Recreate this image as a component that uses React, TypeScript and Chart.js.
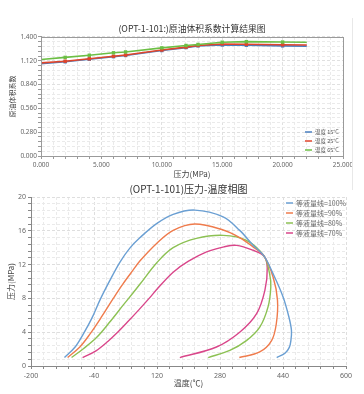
import React, { useEffect, useRef } from "react";
import { Chart, registerables } from "chart.js";

Chart.register(...registerables);

// ---------- Top chart data: oil formation volume factor ----------
const pressures = [0, 2, 4, 6, 7, 10, 12, 13, 15, 17, 20, 22];
const bo15 = [1.085, 1.108, 1.138, 1.168, 1.182, 1.24, 1.275, 1.295, 1.305, 1.302, 1.295, 1.292];
const bo25 = [1.095, 1.115, 1.143, 1.173, 1.187, 1.246, 1.28, 1.3, 1.318, 1.314, 1.308, 1.305];
const bo65 = [1.135, 1.16, 1.185, 1.214, 1.224, 1.272, 1.3, 1.312, 1.338, 1.345, 1.34, 1.338];
const boMarkers = [0, 1, 1, 1, 1, 1, 1, 1, 1, 1, 1, 0];
const boLabels = ["温度 15°C", "温度 25°C", "温度 65°C"];
const topXTicks = [0, 5, 10, 15, 20, 25];
const topXTickLabels = ["0.000", "5.000", "10.000", "15.000", "20.000", "25.000"];
const topYTicks = [0, 0.28, 0.56, 0.84, 1.12, 1.4];
const topYTickLabels = ["0.000", "0.280", "0.560", "0.840", "1.120", "1.400"];

// ---------- Bottom chart data: P-T phase diagram ----------
const ptLabels = ["等液量线=100%", "等液量线=90%", "等液量线=80%", "等液量线=70%"];
const t100 = [-115, -88, -67, -46, -25, 0, 26, 51, 77, 119, 161, 216, 288, 330, 364, 392, 415, 440, 455, 461.5, 460, 456, 445, 424];
const p100 = [1.0, 2.25, 3.8, 5.6, 7.8, 10.1, 12.3, 13.95, 15.2, 16.85, 17.95, 18.45, 17.65, 16.05, 14.3, 13.0, 10.9, 8.2, 5.8, 4.2, 3.0, 2.2, 1.5, 1.0];
const t90 = [-107, -76, -50, -21, 9, 34, 60, 77, 119, 161, 216, 288, 330, 364, 392, 415, 426, 423, 411, 381, 329];
const p90 = [1.0, 2.25, 3.8, 5.8, 8.0, 9.75, 11.4, 12.45, 14.5, 16.05, 16.8, 16.1, 15.2, 14.1, 13.0, 10.5, 7.8, 5.0, 3.0, 1.66, 1.0];
const t80 = [-97, -67, -33, 0, 34, 60, 77, 119, 161, 220, 288, 347, 392, 406, 409, 402, 381, 347, 305, 250];
const p80 = [1.0, 2.05, 3.4, 5.2, 7.2, 8.7, 9.7, 12.2, 14.0, 15.1, 15.46, 14.87, 13.0, 10.9, 9.35, 7.0, 4.6, 3.0, 1.85, 1.0];
const t70 = [-69, -35, -5, 18, 45, 75, 100, 122, 161, 200, 246, 290, 322, 364, 392, 400, 394, 373, 330, 271, 178];
const p70 = [1.0, 1.8, 2.9, 3.9, 5.2, 6.7, 8.0, 9.2, 11.1, 12.4, 13.5, 14.1, 14.28, 13.7, 13.0, 11.6, 8.95, 6.2, 4.0, 2.25, 1.0];
const ptXTicks = [-200, -40, 120, 280, 440, 600];
const ptYTicks = [0, 4, 8, 12, 16, 20];

const FONT = "'Noto Sans', 'Noto Sans CJK SC', sans-serif";
const CJK = "'Noto Sans CJK SC', 'Noto Sans', sans-serif";

function withMinors(majors: number[], parts: number) {
  const out: number[] = [];
  for (let i = 0; i < majors.length - 1; i++) {
    const a = majors[i];
    const b = majors[i + 1];
    for (let k = 0; k < parts; k++) out.push(a + ((b - a) * k) / parts);
  }
  out.push(majors[majors.length - 1]);
  return out;
}

function majorIndex(majors: number[], v: number) {
  return majors.findIndex((m) => Math.abs(m - v) < 1e-6);
}

const insideLegend = {
  id: "insideLegend",
  afterDraw(chart: any, _args: any, opts: any) {
    const { ctx } = chart;
    ctx.save();
    ctx.font = opts.font;
    ctx.textBaseline = "middle";
    chart.data.datasets.forEach((ds: any, i: number) => {
      const y = opts.y + i * opts.gap;
      ctx.strokeStyle = ds.borderColor;
      ctx.lineWidth = opts.lineWidth;
      ctx.beginPath();
      ctx.moveTo(opts.x, y);
      ctx.lineTo(opts.x + opts.swatch, y);
      ctx.stroke();
      ctx.fillStyle = opts.color;
      ctx.fillText(ds.label, opts.x + opts.swatch + opts.textGap, y);
    });
    ctx.restore();
  },
};

const boxPlugin = {
  id: "boxPlugin",
  afterDatasetsDraw(chart: any, _args: any, opts: any) {
    if (!opts || !opts.color) return;
    const { ctx, chartArea: a } = chart;
    ctx.save();
    ctx.strokeStyle = opts.color;
    ctx.lineWidth = 1;
    ctx.strokeRect(Math.round(a.left) + 0.5, Math.round(a.top) + 0.5, Math.round(a.right - a.left), Math.round(a.bottom - a.top));
    ctx.restore();
  },
};

function gridColor(majors: number[], major: string, minor: string) {
  return (c: any) => (c.tick && majorIndex(majors, c.tick.value) >= 0 ? major : minor);
}

export default function App() {
  const topRef = useRef<HTMLCanvasElement>(null);
  const botRef = useRef<HTMLCanvasElement>(null);

  useEffect(() => {
    const mk = (xs: number[], ys: number[]) => xs.map((x, i) => ({ x, y: ys[i] }));
    const topColors = ["#4a7fc1", "#e0452b", "#6cbf45"];
    const topSeries = [bo15, bo25, bo65];
    const topOrder = [3, 2, 1];
    const top = new Chart(topRef.current!, {
      type: "scatter",
      data: {
        datasets: topSeries.map((s, i) => ({
          label: boLabels[i],
          data: mk(pressures, s),
          showLine: true,
          borderColor: topColors[i],
          backgroundColor: topColors[i],
          borderWidth: 1.6,
          pointStyle: "rect",
          pointRadius: boMarkers.map((m) => m * 2.4),
          pointBorderWidth: 0,
          tension: 0,
          order: topOrder[i],
        })),
      },
      options: {
        animation: false,
        responsive: false,
        layout: { padding: { left: 0, right: 21, top: 0, bottom: 0 } },
        plugins: {
          legend: { display: false },
          tooltip: { enabled: false },
          title: {
            display: true,
            fullSize: false,
            text: "(OPT-1-101:)原油体积系数计算结果图",
            color: "#333",
            font: { family: CJK, size: 8.8, weight: "normal" },
            padding: { top: 23.7, bottom: 2.7 },
          },
          insideLegend: { x: 305, y: 132, gap: 9, swatch: 7, textGap: 3, lineWidth: 1.5, font: `5.5px ${CJK}`, color: "#555" },
          boxPlugin: { color: "#9a9a9a" },
        } as any,
        scales: {
          x: {
            type: "linear",
            min: 0,
            max: 25,
            afterBuildTicks: (s: any) => {
              s.ticks = withMinors(topXTicks, 5).map((v) => ({ value: v }));
            },
            afterFit: (s: any) => {
              s.height = 24;
            },
            ticks: {
              autoSkip: false,
              maxRotation: 0,
              minRotation: 0,
              padding: 2.5,
              color: "#666",
              font: { family: FONT, size: 6.5 },
              callback: (v: any) => {
                const i = majorIndex(topXTicks, Number(v));
                return i >= 0 ? topXTickLabels[i] : "";
              },
            },
            grid: { color: gridColor(topXTicks, "#e0e0e0", "#eaeaea"), tickColor: "#999", tickLength: 3 },
            border: { color: "#9a9a9a", dash: [3, 2] },
            title: { display: true, text: "压力(MPa)", color: "#444", font: { family: CJK, size: 8 }, padding: { top: 0, bottom: 1.2 } },
          },
          y: {
            type: "linear",
            min: 0,
            max: 1.4,
            afterBuildTicks: (s: any) => {
              s.ticks = withMinors(topYTicks, 5).map((v) => ({ value: v }));
            },
            afterFit: (s: any) => {
              s.width = 41;
            },
            ticks: {
              autoSkip: false,
              padding: 1,
              color: "#666",
              font: { family: FONT, size: 6.5 },
              callback: (v: any) => {
                const i = majorIndex(topYTicks, Number(v));
                return i >= 0 ? topYTickLabels[i] : "";
              },
            },
            grid: { color: gridColor(topYTicks, "#e0e0e0", "#eaeaea"), tickColor: "#999", tickLength: 3 },
            border: { color: "#9a9a9a", dash: [3, 2] },
            title: { display: true, text: "原油体积系数", color: "#444", font: { family: CJK, size: 7 }, padding: { top: 7.8, bottom: 0 } },
          },
        },
      },
      plugins: [insideLegend, boxPlugin],
    } as any);

    const ptColors = ["#6a9fd3", "#ef7b4c", "#8cc153", "#d9468a"];
    const ptT = [t100, t90, t80, t70];
    const ptP = [p100, p90, p80, p70];
    const bot = new Chart(botRef.current!, {
      type: "scatter",
      data: {
        datasets: ptT.map((ts, i) => ({
          label: ptLabels[i],
          data: mk(ts, ptP[i]),
          showLine: true,
          borderColor: ptColors[i],
          backgroundColor: ptColors[i],
          borderWidth: 1.4,
          pointRadius: 0,
          tension: 0.35,
        })),
      },
      options: {
        animation: false,
        responsive: false,
        layout: { padding: { left: 0, right: 18, top: 0, bottom: 0 } },
        plugins: {
          legend: { display: false },
          tooltip: { enabled: false },
          title: {
            display: true,
            fullSize: false,
            text: "(OPT-1-101)压力-温度相图",
            color: "#333",
            font: { family: CJK, size: 10, weight: "normal" },
            padding: { top: 3, bottom: 2 },
          },
          insideLegend: { x: 286, y: 23, gap: 10, swatch: 7, textGap: 3, lineWidth: 1.5, font: `7px ${CJK}`, color: "#666" },
        } as any,
        scales: {
          x: {
            type: "linear",
            min: -200,
            max: 600,
            afterBuildTicks: (s: any) => {
              s.ticks = withMinors(ptXTicks, 5).map((v) => ({ value: v }));
            },
            afterFit: (s: any) => {
              s.height = 28;
            },
            ticks: {
              autoSkip: false,
              maxRotation: 0,
              minRotation: 0,
              padding: 2.5,
              color: "#666",
              font: { family: FONT, size: 7 },
              callback: (v: any) => (majorIndex(ptXTicks, Number(v)) >= 0 ? String(v) : ""),
            },
            grid: { color: gridColor(ptXTicks, "#dedede", "#eaeaea"), tickColor: "#888", tickLength: 3 },
            border: { color: "#888", dash: [3, 2] },
            title: { display: true, text: "温度(℃)", color: "#444", font: { family: CJK, size: 8 }, padding: { top: 0, bottom: 6.2 } },
          },
          y: {
            type: "linear",
            min: 0,
            max: 20,
            afterBuildTicks: (s: any) => {
              s.ticks = withMinors(ptYTicks, 5).map((v) => ({ value: v }));
            },
            afterFit: (s: any) => {
              s.width = 31;
            },
            ticks: {
              autoSkip: false,
              padding: 2,
              color: "#666",
              font: { family: FONT, size: 7 },
              callback: (v: any) => (majorIndex(ptYTicks, Number(v)) >= 0 ? String(v) : ""),
            },
            grid: { color: gridColor(ptYTicks, "#dedede", "#eaeaea"), tickColor: "#888", tickLength: 3 },
            border: { color: "#888", dash: [3, 2] },
            title: { display: true, text: "压力(MPa)", color: "#444", font: { family: CJK, size: 8 }, padding: { top: 5.9, bottom: 0 } },
          },
        },
      },
      plugins: [insideLegend],
    } as any);

    return () => {
      top.destroy();
      bot.destroy();
    };
  }, []);

  return (
    <div style={{ position: "absolute", left: 0, top: 0, width: 364, height: 394, background: "#fff" }}>
      <canvas ref={topRef} width={364} height={180} style={{ position: "absolute", left: 0, top: 0, width: 364, height: 180 }} />
      <canvas ref={botRef} width={364} height={214} style={{ position: "absolute", left: 0, top: 180, width: 364, height: 214 }} />
      <div style={{ position: "absolute", left: 352, top: 18, width: 1, height: 172, background: "#e8e8e8" }} />
    </div>
  );
}
